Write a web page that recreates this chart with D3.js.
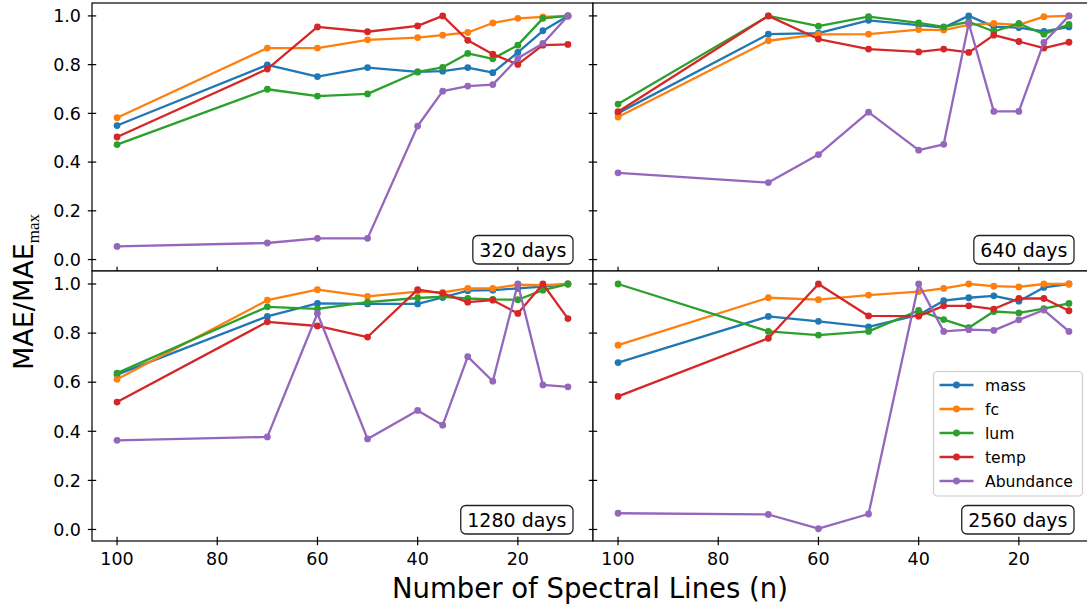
<!DOCTYPE html>
<html>
<head>
<meta charset="utf-8">
<script src="https://cdn.jsdelivr.net/npm/d3@7"></script>
<style>
  html, body { margin: 0; padding: 0; background: #fff; }
  svg { display: block; }
  text { font-family: "DejaVu Sans", sans-serif; fill: #000; }
</style>
</head>
<body>
<div id="chart"></div>
<script>
// ---- data ----
const nLines = [100, 70, 60, 50, 40, 35, 30, 25, 20, 15, 10];
const panelLabels = ["320 days", "640 days", "1280 days", "2560 days"];
const seriesNames = ["mass", "fc", "lum", "temp", "Abundance"];
const seriesColors = ["#1f77b4", "#ff7f0e", "#2ca02c", "#d62728", "#9467bd"];
const yTicks = [0.0, 0.2, 0.4, 0.6, 0.8, 1.0];
const xTicks = [100, 80, 60, 40, 20];

// one row per panel: 320, 640, 1280, 2560 days
const mass = [
  [0.55, 0.799, 0.751, 0.788, 0.77, 0.773, 0.788, 0.767, 0.85, 0.939, 1.0],
  [0.601, 0.925, 0.929, 0.982, 0.962, 0.952, 1.0, 0.956, 0.952, 0.936, 0.955],
  [0.631, 0.868, 0.921, 0.919, 0.919, 0.945, 0.973, 0.975, 0.982, 0.989, 1.0],
  [0.68, 0.868, 0.848, 0.825, 0.874, 0.932, 0.944, 0.952, 0.93, 0.986, 1.0]
];
const fc = [
  [0.582, 0.868, 0.868, 0.902, 0.911, 0.921, 0.932, 0.971, 0.99, 0.996, 1.0],
  [0.585, 0.898, 0.924, 0.925, 0.944, 0.942, 0.963, 0.969, 0.963, 0.997, 1.0],
  [0.612, 0.934, 0.977, 0.95, 0.969, 0.966, 0.982, 0.982, 0.997, 0.995, 1.0],
  [0.751, 0.944, 0.936, 0.955, 0.969, 0.982, 1.0, 0.991, 0.988, 1.0, 1.0]
];
const lum = [
  [0.472, 0.699, 0.671, 0.68, 0.77, 0.789, 0.846, 0.824, 0.88, 0.99, 1.0],
  [0.638, 1.0, 0.958, 0.997, 0.971, 0.955, 0.976, 0.936, 0.969, 0.925, 0.965],
  [0.637, 0.907, 0.899, 0.926, 0.943, 0.948, 0.941, 0.937, 0.936, 0.975, 1.0],
  [1.0, 0.807, 0.792, 0.807, 0.892, 0.855, 0.822, 0.888, 0.882, 0.9, 0.921]
];
const temp = [
  [0.503, 0.782, 0.955, 0.935, 0.959, 1.0, 0.9, 0.843, 0.801, 0.88, 0.883],
  [0.607, 1.0, 0.905, 0.864, 0.852, 0.864, 0.85, 0.921, 0.895, 0.868, 0.892],
  [0.519, 0.846, 0.829, 0.784, 0.977, 0.962, 0.926, 0.934, 0.88, 1.0, 0.859],
  [0.542, 0.779, 1.0, 0.87, 0.869, 0.911, 0.911, 0.898, 0.941, 0.941, 0.891]
];
const abundance = [
  [0.054, 0.068, 0.087, 0.087, 0.548, 0.691, 0.712, 0.718, 0.826, 0.887, 1.0],
  [0.356, 0.316, 0.431, 0.605, 0.449, 0.473, 0.97, 0.608, 0.608, 0.891, 1.0],
  [0.363, 0.377, 0.88, 0.369, 0.485, 0.425, 0.704, 0.604, 1.0, 0.589, 0.581],
  [0.066, 0.061, 0.003, 0.063, 1.0, 0.807, 0.814, 0.811, 0.854, 0.894, 0.807]
];
const seriesData = [mass, fc, lum, temp, abundance];

// ---- layout ----
const W = 1087, H = 607;
const colX = [[92, 593], [593, 1094]];
const rowY = [[3, 271], [271, 541]];
const xDomain = [105, 5];
const yDomain = [-0.047, 1.053];

const svg = d3.select("#chart").append("svg")
  .attr("width", W).attr("height", H);

const defs = svg.append("defs");

const lineW = 2.3, markR = 3.4, spineW = 1.2, tickHalf = 4.2;

for (let p = 0; p < 4; p++) {
  const r = Math.floor(p / 2), c = p % 2;
  const [x0, x1] = colX[c];
  const [y0, y1] = rowY[r];
  const x = d3.scaleLinear().domain(xDomain).range([x0, x1]);
  const y = d3.scaleLinear().domain(yDomain).range([y1, y0]);

  const g = svg.append("g");
  g.append("rect").attr("x", x0).attr("y", y0)
    .attr("width", x1 - x0).attr("height", y1 - y0).attr("fill", "#fff");

  defs.append("clipPath").attr("id", "clip" + p)
    .append("rect").attr("x", x0).attr("y", y0)
    .attr("width", x1 - x0).attr("height", y1 - y0);

  const plot = g.append("g").attr("clip-path", `url(#clip${p})`);
  seriesData.forEach((sd, si) => {
    const vals = sd[p];
    const pts = nLines.map((n, i) => [n, vals[i]]);
    plot.append("path")
      .attr("d", d3.line().x(d => x(d[0])).y(d => y(d[1]))(pts))
      .attr("fill", "none").attr("stroke", seriesColors[si])
      .attr("stroke-width", lineW).attr("stroke-linejoin", "round");
    plot.selectAll(null).data(pts).enter().append("circle")
      .attr("cx", d => x(d[0])).attr("cy", d => y(d[1]))
      .attr("r", markR).attr("fill", seriesColors[si]);
  });

  // spines
  g.append("rect").attr("x", x0).attr("y", y0)
    .attr("width", x1 - x0).attr("height", y1 - y0)
    .attr("fill", "none").attr("stroke", "#000").attr("stroke-width", spineW);

  // y ticks (inout)
  yTicks.forEach(t => {
    g.append("line").attr("x1", x0 - tickHalf).attr("x2", x0 + tickHalf)
      .attr("y1", y(t)).attr("y2", y(t)).attr("stroke", "#000").attr("stroke-width", spineW);
    if (c === 0) {
      g.append("text").attr("x", x0 - 11).attr("y", y(t)).attr("dy", "0.36em")
        .attr("text-anchor", "end").attr("font-size", 17.5).text(t.toFixed(1));
    }
  });
  // x ticks (inout)
  xTicks.forEach(t => {
    g.append("line").attr("x1", x(t)).attr("x2", x(t))
      .attr("y1", y1 - tickHalf).attr("y2", y1 + tickHalf)
      .attr("stroke", "#000").attr("stroke-width", spineW);
    if (r === 1) {
      g.append("text").attr("x", x(t)).attr("y", y1 + 24)
        .attr("text-anchor", "middle").attr("font-size", 17.5).text(t);
    }
  });

  // panel label box
  const boxRight = x1 - 20, boxBottom = y1 - 7, boxH = 28.5;
  const lbl = g.append("text").attr("font-size", 19)
    .attr("text-anchor", "end")
    .attr("x", boxRight - 6.5).attr("y", boxBottom - boxH / 2).attr("dy", "0.36em")
    .text(panelLabels[p]);
  const tw = lbl.node().getComputedTextLength();
  g.append("rect")
    .attr("x", boxRight - tw - 13).attr("y", boxBottom - boxH)
    .attr("width", tw + 13).attr("height", boxH)
    .attr("rx", 5).attr("fill", "#fff").attr("stroke", "#222").attr("stroke-width", 1.3);
  lbl.raise();

  // legend in last panel
  if (p === 3) {
    const lg = g.append("g");
    lg.append("rect").attr("x", 933.5).attr("y", 371.5)
      .attr("width", 149).attr("height", 124.5).attr("rx", 4)
      .attr("fill", "#fff").attr("fill-opacity", 0.8)
      .attr("stroke", "#cccccc").attr("stroke-width", 1.2);
    seriesNames.forEach((nm, si) => {
      const ly = 385 + si * 24;
      lg.append("line").attr("x1", 939.5).attr("x2", 973.5)
        .attr("y1", ly).attr("y2", ly)
        .attr("stroke", seriesColors[si]).attr("stroke-width", lineW);
      lg.append("circle").attr("cx", 956.5).attr("cy", ly).attr("r", markR)
        .attr("fill", seriesColors[si]);
      lg.append("text").attr("x", 985).attr("y", ly).attr("dy", "0.36em")
        .attr("font-size", 15.6).text(nm);
    });
  }
}

// axis labels
svg.append("text").attr("x", 590).attr("y", 598)
  .attr("text-anchor", "middle").attr("font-size", 27.5)
  .text("Number of Spectral Lines (n)");

const yl = svg.append("text")
  .attr("transform", "translate(33,370) rotate(-90)")
  .attr("font-size", 27);
yl.append("tspan").text("MAE/MAE");
yl.append("tspan").attr("dy", 6).attr("font-size", 17)
  .attr("font-family", "Liberation Serif, serif").text("max");
</script>
</body>
</html>
